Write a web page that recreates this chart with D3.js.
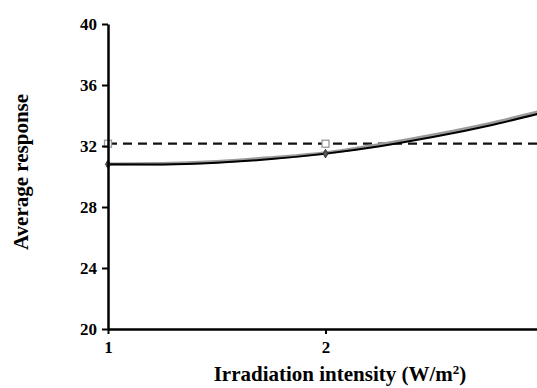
<!DOCTYPE html>
<html lang="en">
<head>
<meta charset="utf-8">
<script src="https://d3js.org/d3.v7.min.js"></script>
<style>
  body { margin: 0; background: #fff; }
  svg { display: block; font-family: "Liberation Serif", "Times New Roman", serif; font-weight: bold; }
</style>
</head>
<body>
<div id="main"></div>
<script>
    // values
    const intensity = [1, 1.25, 1.5, 1.75, 2, 2.25, 2.5, 2.75, 3];
    const fitted = [30.8, 30.79, 30.9, 31.14, 31.5, 31.99, 32.6, 33.33, 34.19];
    const predicted = [30.8, 30.83, 30.96, 31.22, 31.54, 32.08, 32.72, 33.45, 34.3];
    const observedX = [1, 2];
    const observedResp = [30.8, 31.5];
    const targetX = [1, 2, 3];
    const targetResp = [32.15, 32.15, 32.15];
    const xTicks = [1, 2, 3];
    const yTicks = [20, 24, 28, 32, 36, 40];

    const width = 537;
    const height = 388;

    const svg = d3.select('#main')
        .append('svg')
        .attr('width', width)
        .attr('height', height);

    const xScale = d3.scaleLinear()
        .domain([1, 3])
        .range([108, 543]);

    const yScale = d3.scaleLinear()
        .domain([20, 40])
        .range([329, 24]);

    const line = d3.line()
        .x(d => xScale(d[0]))
        .y(d => yScale(d[1]))
        .curve(d3.curveMonotoneX);

    // dashed target line
    svg.append('path')
        .datum(d3.zip(targetX, targetResp))
        .attr('d', line)
        .attr('fill', 'none')
        .attr('stroke', '#111')
        .attr('stroke-width', 2.2)
        .attr('stroke-dasharray', '9,6');

    // gray curve under the black one
    svg.append('path')
        .datum(d3.zip(intensity, predicted))
        .attr('d', line)
        .attr('fill', 'none')
        .attr('stroke', '#9a9a9a')
        .attr('stroke-width', 3.5);

    svg.append('path')
        .datum(d3.zip(intensity, fitted))
        .attr('d', line)
        .attr('fill', 'none')
        .attr('stroke', '#000')
        .attr('stroke-width', 2);

    // diamond markers on the curve
    svg.selectAll('path.diamond')
        .data(d3.zip(observedX, observedResp))
        .enter()
        .append('path')
        .attr('class', 'diamond')
        .attr('d', d3.symbol(d3.symbolDiamond, 22))
        .attr('transform', d => `translate(${xScale(d[0])}, ${yScale(d[1])})`)
        .attr('fill', '#555')
        .attr('stroke', '#222')
        .attr('stroke-width', 0.8);

    // white square markers on the dashed line
    svg.selectAll('rect.sq')
        .data(d3.zip(observedX, [targetResp[0], targetResp[1]]))
        .enter()
        .append('rect')
        .attr('class', 'sq')
        .attr('x', d => xScale(d[0]) - 3.5)
        .attr('y', d => yScale(d[1]) - 3.5)
        .attr('width', 7)
        .attr('height', 7)
        .attr('fill', '#fff')
        .attr('stroke', '#999')
        .attr('stroke-width', 1.3);

    const xAxis = d3.axisBottom(xScale)
        .tickValues(xTicks)
        .tickFormat(d3.format('d'))
        .tickSize(5)
        .tickSizeOuter(0);

    svg.append('g')
        .attr('id', 'xAxis')
        .attr('transform', `translate(0, ${yScale(20)})`)
        .call(xAxis);

    const yAxis = d3.axisLeft(yScale)
        .tickValues(yTicks)
        .tickSize(6)
        .tickSizeOuter(0);

    svg.append('g')
        .attr('id', 'yAxis')
        .attr('transform', `translate(${xScale(1)}, 0)`)
        .call(yAxis);

    svg.selectAll('g')
        .attr('font-family', null)
        .attr('font-size', null);

    svg.selectAll('.domain')
        .attr('stroke', '#000')
        .attr('stroke-width', 2.5);
    svg.selectAll('.tick line')
        .attr('stroke', '#000')
        .attr('stroke-width', 2);
    svg.selectAll('.tick text')
        .style('font-family', '"Liberation Serif", serif')
        .style('font-weight', 'bold')
        .style('font-size', '17px')
        .attr('fill', '#000');
    d3.selectAll('#xAxis .tick text').attr('dy', '0.95em');
    d3.selectAll('#yAxis .tick text').attr('x', -11);

    svg.append('text')
        .attr('x', 340)
        .attr('y', 381)
        .attr('text-anchor', 'middle')
        .attr('font-size', 21)
        .text('Irradiation intensity (W/m')
        .append('tspan')
        .attr('baseline-shift', 'super')
        .attr('font-size', 13)
        .text('2')
        .select(function() { return this.parentNode; })
        .append('tspan')
        .text(')');

    svg.append('text')
        .attr('transform', 'translate(28, 172) rotate(-90)')
        .attr('text-anchor', 'middle')
        .attr('font-size', 21)
        .text('Average response');
</script>
</body>
</html>
